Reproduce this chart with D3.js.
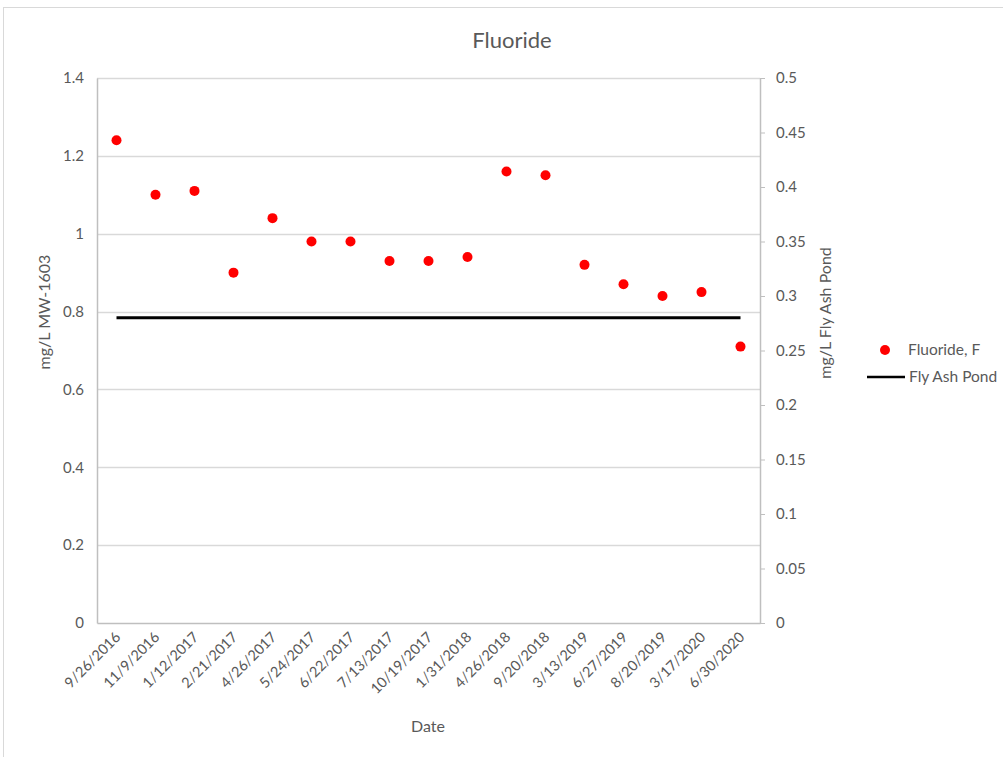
<!DOCTYPE html>
<html><head><meta charset="utf-8">
<script src="https://cdn.jsdelivr.net/npm/d3@7"></script>
<style>body{margin:0;background:#fff}svg{display:block}text{font-family:Lato,"Open Sans",sans-serif;fill:#595959}</style>
</head><body><svg id="c" width="1003" height="757"></svg>
<script>
const dates = ["9/26/2016","11/9/2016","1/12/2017","2/21/2017","4/26/2017","5/24/2017","6/22/2017","7/13/2017","10/19/2017","1/31/2018","4/26/2018","9/20/2018","3/13/2019","6/27/2019","8/20/2019","3/17/2020","6/30/2020"];
const fluoride = [1.24,1.10,1.11,0.90,1.04,0.98,0.98,0.93,0.93,0.94,1.16,1.15,0.92,0.87,0.84,0.85,0.71];
const flyAshPond = [0.28,0.28,0.28,0.28,0.28,0.28,0.28,0.28,0.28,0.28,0.28,0.28,0.28,0.28,0.28,0.28,0.28];
const leftTicks = [0,0.2,0.4,0.6,0.8,1,1.2,1.4];
const rightTicks = [0,0.05,0.1,0.15,0.2,0.25,0.3,0.35,0.4,0.45,0.5];

const svg = d3.select("#c");
const L=97,R=760,T=78,B=623;
const x = d3.scaleBand().domain(dates).range([L,R]);
const yL = d3.scaleLinear().domain([0,1.4]).range([B,T]);
const yR = d3.scaleLinear().domain([0,0.5]).range([B,T]);

// outer border
svg.append("rect").attr("x",3.5).attr("y",7.5).attr("width",1010).attr("height",760).attr("fill","none").attr("stroke","#d9d9d9");

// gridlines
svg.append("g").selectAll("line").data(leftTicks.slice(1)).join("line")
  .attr("x1",L).attr("x2",R).attr("y1",d=>Math.round(yL(d))+0.5).attr("y2",d=>Math.round(yL(d))+0.5)
  .attr("stroke","#d9d9d9").attr("stroke-width",1.5);

// left axis
const gl = svg.append("g").attr("transform",`translate(${L},0)`)
  .call(d3.axisLeft(yL).tickValues(leftTicks).tickFormat(d3.format("~g")).tickSize(0).tickPadding(13));
gl.select(".domain").attr("stroke","#bfbfbf").attr("stroke-width",1.5);
gl.selectAll("text").style("font-size","15px").attr("fill","#595959");

// right axis
const gr = svg.append("g").attr("transform",`translate(${R},0)`)
  .call(d3.axisRight(yR).tickValues(rightTicks).tickFormat(d3.format("~g")).tickSize(5).tickSizeOuter(0).tickPadding(11));
gr.select(".domain").attr("stroke","#bfbfbf").attr("stroke-width",1.5);
gr.selectAll(".tick line").attr("stroke","#bfbfbf");
gr.selectAll("text").style("font-size","15px").attr("fill","#595959");

// bottom axis
const gb = svg.append("g").attr("transform",`translate(0,${B})`)
  .call(d3.axisBottom(x).tickSize(0).tickPadding(0));
gb.select(".domain").attr("stroke","#bfbfbf").attr("stroke-width",1.5);
gb.selectAll("text").style("font-size","14.5px").attr("fill","#595959")
  .attr("text-anchor","end").attr("dy",0)
  .attr("transform","translate(5,15) rotate(-45)");

// fly ash pond line
svg.append("path").datum(flyAshPond)
  .attr("d",d3.line().x((d,i)=>x(dates[i])+x.bandwidth()/2).y(d=>yR(d)))
  .attr("fill","none").attr("stroke","#000").attr("stroke-width",3);

// fluoride points
svg.append("g").selectAll("circle").data(fluoride).join("circle")
  .attr("cx",(d,i)=>x(dates[i])+x.bandwidth()/2).attr("cy",d=>yL(d)).attr("r",5).attr("fill","#ff0000");

// titles
svg.append("text").attr("x",512).attr("y",48).attr("text-anchor","middle").style("font-size","22px").text("Fluoride");
svg.append("text").attr("x",428).attr("y",732).attr("text-anchor","middle").style("font-size","16px").text("Date");
svg.append("text").attr("transform","translate(50,312) rotate(-90)").attr("text-anchor","middle").style("font-size","16px").text("mg/L MW-1603");
svg.append("text").attr("transform","translate(831,313) rotate(-90)").attr("text-anchor","middle").style("font-size","16px").text("mg/L Fly Ash Pond");

// legend
const lg = svg.append("g");
lg.append("circle").attr("cx",885).attr("cy",350).attr("r",5).attr("fill","#ff0000");
lg.append("text").attr("x",908).attr("y",355).style("font-size","15.5px").text("Fluoride, F");
lg.append("line").attr("x1",867).attr("x2",905).attr("y1",377).attr("y2",377).attr("stroke","#000").attr("stroke-width",2.5);
lg.append("text").attr("x",909).attr("y",382).style("font-size","15.5px").text("Fly Ash Pond");
</script></body></html>
